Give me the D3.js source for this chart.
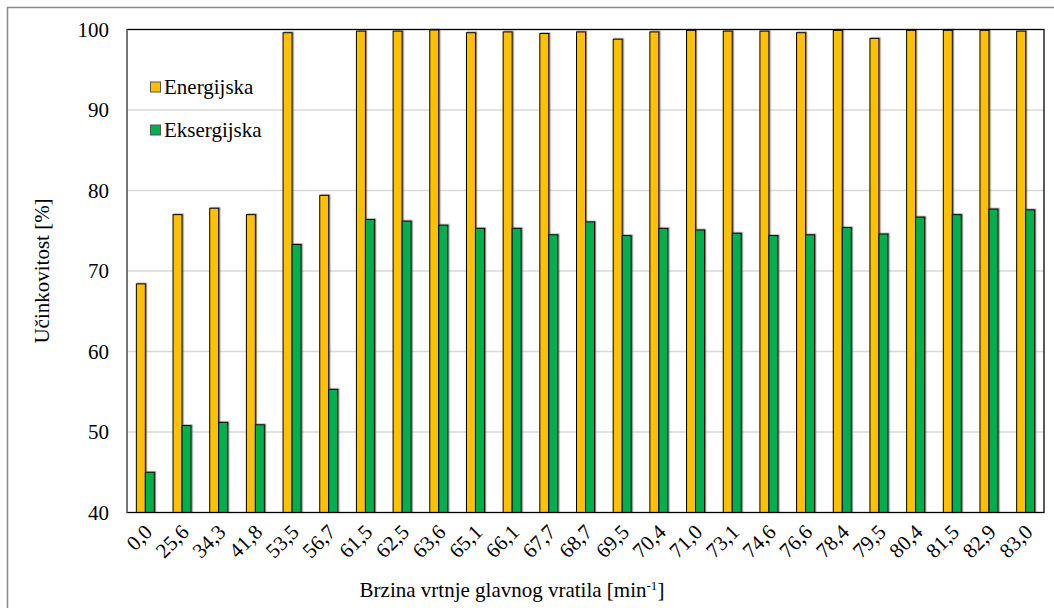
<!DOCTYPE html>
<html><head><meta charset="utf-8">
<script src="https://cdn.jsdelivr.net/npm/d3@7"></script>
<style>body{margin:0;background:#fff}svg{display:block}</style>
</head><body><svg id="c" width="1054" height="608" font-family="'Liberation Serif', 'Times New Roman', Tinos, 'DejaVu Serif', serif"></svg>
<script>
const categories = ["0,0","25,6","34,3","41,8","53,5","56,7","61,5","62,5","63,6","65,1","66,1","67,7","68,7","69,5","70,4","71,0","73,1","74,6","76,6","78,4","79,5","80,4","81,5","82,9","83,0"];
const energijska = [68.4,77.0,77.8,77.0,99.6,79.4,99.8,99.8,99.95,99.6,99.7,99.5,99.7,98.8,99.7,99.9,99.8,99.8,99.6,99.9,98.9,99.9,99.9,99.9,99.8];
const eksergijska = [45.0,50.8,51.2,50.9,73.3,55.3,76.4,76.2,75.7,75.3,75.3,74.5,76.1,74.4,75.3,75.1,74.7,74.4,74.5,75.4,74.6,76.7,77.0,77.7,77.6];
const yTicks = [40,50,60,70,80,90,100];
const seriesNames = ["Energijska","Eksergijska"];
const colors = ["#FFC000","#00B050"];

const svg = d3.select("#c");
const m = {l:127, r:1044, t:29.5, b:512.5};
const defs = svg.append("defs");
const f = defs.append("filter").attr("id","sh").attr("x","-50%").attr("y","-5%").attr("width","200%").attr("height","110%");
f.append("feDropShadow").attr("dx",1.2).attr("dy",-0.5).attr("stdDeviation",0.6).attr("flood-color","#555").attr("flood-opacity",0.7);

svg.append("rect").attr("x",7.5).attr("y",7.5).attr("width",1070).attr("height",620).attr("fill","#fff").attr("stroke","#888").attr("stroke-width",1.5);

const x = d3.scaleBand().domain(categories).range([m.l,m.r]);
const y = d3.scaleLinear().domain([40,100]).range([m.b,m.t]);

svg.append("g").selectAll("line").data(yTicks.filter(t=>t>40&&t<100)).join("line")
  .attr("x1",m.l).attr("x2",m.r).attr("y1",d=>y(d)).attr("y2",d=>y(d))
  .attr("stroke","#d9d9d9").attr("stroke-width",1.3);

svg.append("g").selectAll("text").data(yTicks).join("text")
  .attr("x",109).attr("y",d=>y(d)).attr("dy","0.35em").attr("text-anchor","end")
  .attr("font-size",21).text(d=>d);

const bw = 9;
const data = categories.map((c,i)=>({c, v:[energijska[i], eksergijska[i]]}));
const g = svg.append("g");
data.forEach(d=>{
  const cx = x(d.c) + x.bandwidth()/2;
  d.v.forEach((v,k)=>{
    g.append("rect").attr("x",cx - bw + k*bw).attr("y",y(v)).attr("width",bw).attr("height",y(40)-y(v))
      .attr("fill",colors[k]).attr("stroke","#000").attr("stroke-width",1).attr("filter","url(#sh)");
  });
});

svg.append("rect").attr("x",m.l).attr("y",m.t).attr("width",m.r-m.l).attr("height",m.b-m.t)
  .attr("fill","none").attr("stroke","#000").attr("stroke-width",1.3);
svg.append("line").attr("x1",m.l).attr("x2",m.l).attr("y1",m.t).attr("y2",m.b).attr("stroke","#808080").attr("stroke-width",1.5);

svg.append("g").selectAll("text").data(categories).join("text")
  .attr("transform",d=>`translate(${x(d)+x.bandwidth()/2+3},${528}) rotate(-45)`)
  .attr("text-anchor","end").attr("dy","0.35em").attr("font-size",21).text(d=>d);

const xt = svg.append("text").attr("x",512).attr("y",597).attr("text-anchor","middle").attr("font-size",21);
xt.append("tspan").text("Brzina vrtnje glavnog vratila [min");
xt.append("tspan").attr("font-size",13).attr("dy",-7).text("-1");
xt.append("tspan").attr("dy",7).text("]");
svg.append("text").attr("transform","translate(42,271) rotate(-90)").attr("text-anchor","middle").attr("dy","0.35em")
  .attr("font-size",21).text("Učinkovitost [%]");

seriesNames.forEach((n,i)=>{
  const ly = 87 + i*43;
  svg.append("rect").attr("x",150.5).attr("y",ly-5).attr("width",10).attr("height",10).attr("fill",colors[i]).attr("stroke","#555").attr("stroke-width",1);
  svg.append("text").attr("x",164).attr("y",ly).attr("dy","0.35em").attr("font-size",21).text(n);
});
</script></body></html>
